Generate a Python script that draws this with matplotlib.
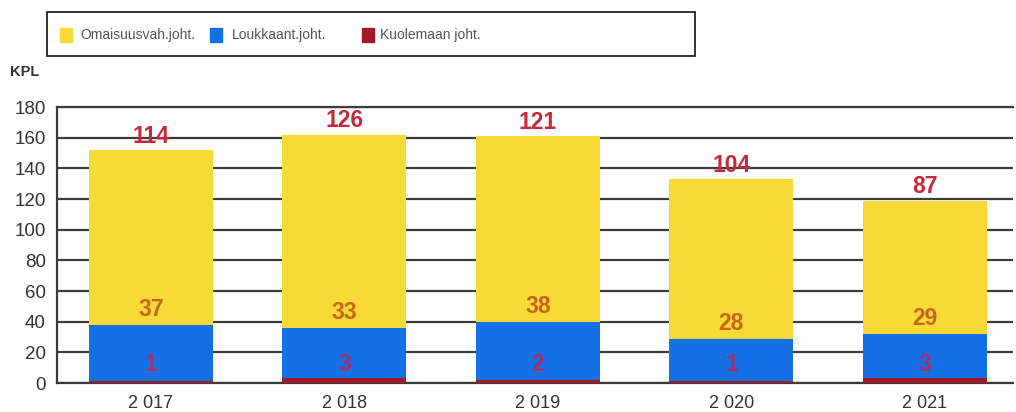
import numpy as np
import matplotlib
matplotlib.use("Agg")
import matplotlib.pyplot as plt
from matplotlib.patches import Rectangle

# --- DATA ---
YEARS      = ["2 017", "2 018", "2 019", "2 020", "2 021"]
KUOLEMAAN  = [1, 3, 2, 1, 3]          # deaths (red, bottom)
LOUKKAANT  = [37, 33, 38, 28, 29]     # injuries (blue)
OMAISUUS   = [114, 126, 121, 104, 87] # property damage (yellow)
Y_TICKS    = [0, 20, 40, 60, 80, 100, 120, 140, 160, 180]
LEGEND     = ["Omaisuusvah.joht.", "Loukkaant.joht.", "Kuolemaan joht."]

# --- STYLE ---
YELLOW = "#F8DA36"
BLUE   = "#1570E6"
RED    = "#A21A2A"
GRID   = "#3c3c3c"
TEXT   = "#333333"
W, H   = 1016, 412

plt.rcParams["font.family"] = ["Liberation Sans", "DejaVu Sans"]

fig = plt.figure(figsize=(W/100, H/100), dpi=100)
ax = fig.add_axes([57/W, 1-383/H, 956/W, 276/H])

x = np.arange(len(YEARS))
red = np.array(KUOLEMAAN)
blue = np.array(LOUKKAANT)
yellow = np.array(OMAISUUS)
w = 0.64

ax.bar(x, red, w, color=RED, zorder=3)
ax.bar(x, blue, w, bottom=red, color=BLUE, zorder=3)
ax.bar(x, yellow, w, bottom=red + blue, color=YELLOW, zorder=3)

for i in range(len(x)):
    tot = red[i] + blue[i] + yellow[i]
    ax.text(x[i], tot + 9, str(yellow[i]), ha="center", va="center",
            color="#C42A3A", fontsize=16.5, fontweight="bold", zorder=5)
    ax.text(x[i], red[i] + blue[i] + 10, str(blue[i]), ha="center", va="center",
            color="#C8661E", fontsize=16.5, fontweight="bold", zorder=5)
    ax.text(x[i], 12, str(red[i]), ha="center", va="center",
            color="#A8306A", fontsize=16.5, fontweight="bold", zorder=5)

ax.set_ylim(0, 180)
ax.set_xlim(-0.485, 4.455)
ax.set_yticks(Y_TICKS)
ax.set_xticks(x)
ax.set_xticklabels(YEARS)
ax.yaxis.grid(True, color=GRID, lw=1.6, zorder=0)
ax.set_axisbelow(True)
for s in ["top", "right"]:
    ax.spines[s].set_visible(False)
for s in ["left", "bottom"]:
    ax.spines[s].set_color(GRID)
    ax.spines[s].set_linewidth(1.6)
# top line at 180
ax.axhline(180, color=GRID, lw=1.6, clip_on=False, zorder=1)
ax.tick_params(axis="y", length=0, labelsize=13.5, colors=TEXT, pad=8)
ax.tick_params(axis="x", length=0, labelsize=13, colors=TEXT, pad=9)

fig.text(10/W, 1-72/H, "KPL", fontsize=10.5, fontweight="bold", color=TEXT,
         va="center", ha="left")

# legend box drawn by hand to match the original placement
fig.patches.append(Rectangle((47/W, 1-56/H), 648/W, 44/H, transform=fig.transFigure,
                             fill=False, edgecolor="#222222", lw=1.3))
sq_x = [60, 210, 362]
txt_x = [80, 232, 380]
colors = [YELLOW, BLUE, RED]
for sx, tx, c, lab in zip(sq_x, txt_x, colors, LEGEND):
    fig.patches.append(Rectangle((sx/W, 1-42/H), 12/W, 14/H,
                                 transform=fig.transFigure, color=c))
    fig.text(tx/W, 1-35/H, lab, fontsize=10, color="#555555", va="center", ha="left")

fig.savefig("out.png", dpi=100)
